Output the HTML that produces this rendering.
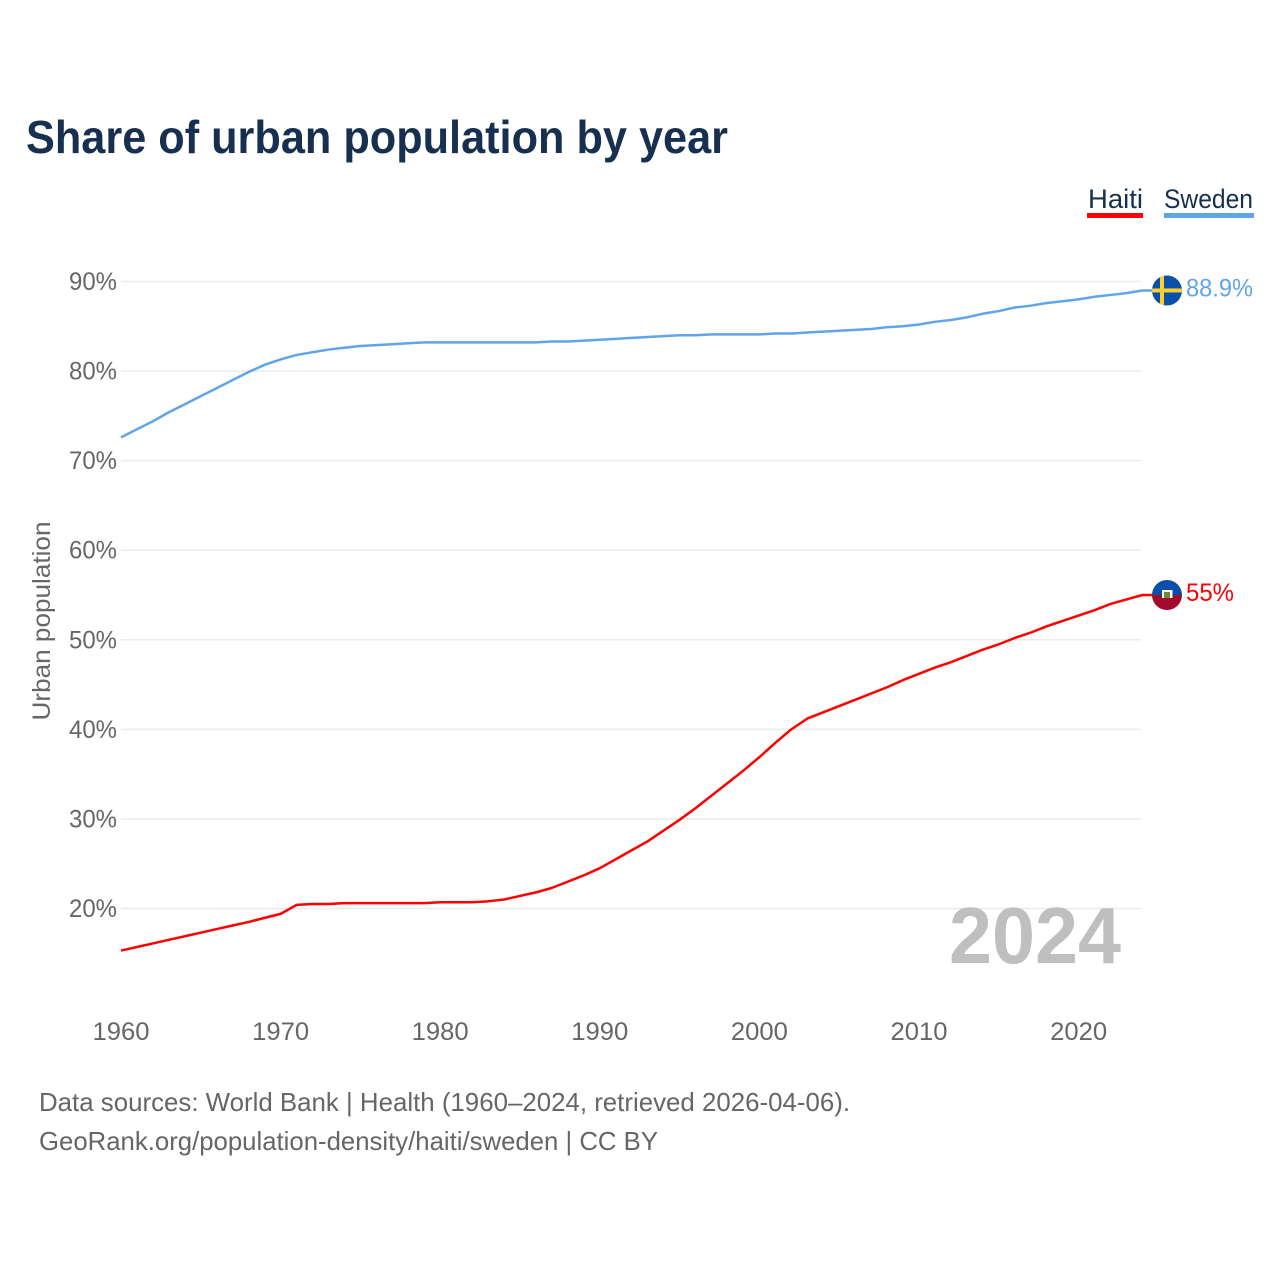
<!DOCTYPE html>
<html lang="en">
<head>
<meta charset="utf-8">
<title>Share of urban population by year</title>
<style>
html,body{margin:0;padding:0;background:#fff;}
svg{display:block;font-family:"Liberation Sans",sans-serif;}
</style>
</head>
<body>
<svg id="chart" xmlns="http://www.w3.org/2000/svg" width="1280" height="1280" viewBox="0 0 1280 1280">
  <rect x="0" y="0" width="1280" height="1280" fill="#fff"/>
  <text x="26" y="153" font-size="46" font-weight="700" fill="#17304f" textLength="702" lengthAdjust="spacingAndGlyphs">Share of urban population by year</text>

  <g>
    <text x="1088" y="208" font-size="27" fill="#17304f" textLength="55" lengthAdjust="spacingAndGlyphs">Haiti</text>
    <rect x="1087" y="213" width="56" height="5" fill="#ff0000"/>
  </g>
  <g>
    <text x="1164" y="208" font-size="27" fill="#17304f" textLength="89" lengthAdjust="spacingAndGlyphs">Sweden</text>
    <rect x="1164" y="213" width="90" height="5" fill="#60a5ea"/>
  </g>

  <g id="grid"></g>
  <g id="y-axis"></g>
  <g id="x-axis"></g>

  <text transform="translate(50,720.5) rotate(-90)" font-size="25" fill="#666" textLength="199" lengthAdjust="spacingAndGlyphs">Urban population</text>

  <text x="949" y="963" font-size="80" font-weight="700" fill="#bfbfbf" textLength="172" lengthAdjust="spacingAndGlyphs">2024</text>

  <g id="series"></g>
  <g id="end-markers"></g>

  <text x="39" y="1111" font-size="26" fill="#666" textLength="811" lengthAdjust="spacingAndGlyphs">Data sources: World Bank | Health (1960–2024, retrieved 2026-04-06).</text>
  <text x="39" y="1150" font-size="26" fill="#666" textLength="619" lengthAdjust="spacingAndGlyphs">GeoRank.org/population-density/haiti/sweden | CC BY</text>
</svg>
<script>
const startYear = 1960;
const yTickValues = [20, 30, 40, 50, 60, 70, 80, 90];
const yTickLabels = ["20%", "30%", "40%", "50%", "60%", "70%", "80%", "90%"];
const xTickValues = [1960, 1970, 1980, 1990, 2000, 2010, 2020];
const xTickLabels = ["1960", "1970", "1980", "1990", "2000", "2010", "2020"];
const haitiValues = [15.3, 15.7, 16.1, 16.5, 16.9, 17.3, 17.7, 18.1, 18.5, 18.95, 19.4, 20.4, 20.5, 20.5, 20.6, 20.6, 20.6, 20.6, 20.6, 20.6];
const haitiValuesB = [20.7, 20.7, 20.7, 20.8, 21.0, 21.4, 21.8, 22.3, 23.0, 23.7, 24.5, 25.5, 26.5, 27.5, 28.7, 29.9, 31.2, 32.6, 34.0, 35.4];
const haitiValuesC = [36.9, 38.5, 40.0, 41.2, 41.9, 42.6, 43.3, 44.0, 44.7, 45.5, 46.2, 46.9, 47.5, 48.2, 48.9, 49.5, 50.2, 50.8, 51.5, 52.1, 52.7, 53.3, 54.0, 54.5, 55.0];
const swedenValues = [72.6, 73.5, 74.4, 75.4, 76.3, 77.2, 78.1, 79.0, 79.9, 80.7, 81.3, 81.8, 82.1, 82.4, 82.6, 82.8, 82.9, 83.0, 83.1, 83.2];
const swedenValuesB = [83.2, 83.2, 83.2, 83.2, 83.2, 83.2, 83.2, 83.3, 83.3, 83.4, 83.5, 83.6, 83.7, 83.8, 83.9, 84.0, 84.0, 84.1, 84.1, 84.1];
const swedenValuesC = [84.1, 84.2, 84.2, 84.3, 84.4, 84.5, 84.6, 84.7, 84.9, 85.0, 85.2, 85.5, 85.7, 86.0, 86.4, 86.7, 87.1, 87.3, 87.6, 87.8, 88.0, 88.3, 88.5, 88.7, 89.0];
const haitiLabel = "55%";
const swedenLabel = "88.9%";

const NS = "http://www.w3.org/2000/svg";
function xScale(year) { return 121 + (year - 1960) * 15.96; }
function yScale(v) { return 281.5 + (90 - v) * 8.957; }
function mk(tag, attrs, parent) {
  const el = document.createElementNS(NS, tag);
  for (const k in attrs) el.setAttribute(k, attrs[k]);
  parent.appendChild(el);
  return el;
}

const gridG = document.getElementById("grid");
const yG = document.getElementById("y-axis");
const xG = document.getElementById("x-axis");
const seriesG = document.getElementById("series");
const markerG = document.getElementById("end-markers");

yTickValues.forEach(function (v, i) {
  const line = mk("line", { x1: 121, x2: 1141, y1: yScale(v), y2: yScale(v), stroke: "#ebebeb", "stroke-width": 1.5 }, gridG);
  
  
  const t = mk("text", { x: 117, y: yScale(v) + 8.5, "font-size": 25, fill: "#666", "text-anchor": "end", textLength: 48, lengthAdjust: "spacingAndGlyphs" }, yG);
  
  
  t.textContent = yTickLabels[i];
});

xTickValues.forEach(function (v, i) {
  const t = mk("text", { x: xScale(v), y: 1040, "font-size": 25, fill: "#666", "text-anchor": "middle", textLength: 57, lengthAdjust: "spacingAndGlyphs" }, xG);
  
  
  t.textContent = xTickLabels[i];
});

function linePath(values) {
  const pts = values.map(function (v, i) { return xScale(startYear + i).toFixed(2) + "," + yScale(v).toFixed(2); });
  const last = values[values.length - 1];
  pts.push((xScale(startYear + values.length - 1) + 10).toFixed(2) + "," + yScale(last).toFixed(2));
  return "M" + pts.join("L");
}

const haitiAll = haitiValues.concat(haitiValuesB, haitiValuesC);
const swedenAll = swedenValues.concat(swedenValuesB, swedenValuesC);

const haitiLine = mk("path", { d: linePath(haitiAll), fill: "none", stroke: "#ff0000", "stroke-width": 2.5, "stroke-linejoin": "round" }, seriesG);


const swedenLine = mk("path", { d: linePath(swedenAll), fill: "none", stroke: "#60a5ea", "stroke-width": 2.5, "stroke-linejoin": "round" }, seriesG);



const flagX = 1167;
const defs = mk("defs", {}, markerG);
const sy = yScale(swedenAll[swedenAll.length - 1]);
const hy = yScale(haitiAll[haitiAll.length - 1]);
const clipS = mk("clipPath", { id: "clip-sweden" }, defs);
mk("circle", { cx: flagX, cy: sy, r: 15 }, clipS);
const clipH = mk("clipPath", { id: "clip-haiti" }, defs);
mk("circle", { cx: flagX, cy: hy, r: 15 }, clipH);

const sFlag = mk("g", { "clip-path": "url(#clip-sweden)" }, markerG);


mk("rect", { x: flagX - 15, y: sy - 15, width: 30, height: 30, fill: "#0a4fa8" }, sFlag);
mk("rect", { x: flagX - 7, y: sy - 15, width: 4, height: 30, fill: "#fdcf2e" }, sFlag);
mk("rect", { x: flagX - 15, y: sy - 2, width: 30, height: 4, fill: "#fdcf2e" }, sFlag);

const hFlag = mk("g", { "clip-path": "url(#clip-haiti)" }, markerG);


mk("rect", { x: flagX - 15, y: hy - 15, width: 30, height: 15, fill: "#0a4fa8" }, hFlag);
mk("rect", { x: flagX - 15, y: hy, width: 30, height: 15, fill: "#a20a2c" }, hFlag);
mk("rect", { x: flagX - 5, y: hy - 5, width: 10.5, height: 8, fill: "#ffffff" }, hFlag);
mk("rect", { x: flagX - 3, y: hy - 3, width: 6, height: 6, fill: "#6d8a3c" }, hFlag);

const sLabel = mk("text", { x: 1186, y: sy + 6, "font-size": 25, fill: "#60a5ea", textLength: 67, lengthAdjust: "spacingAndGlyphs" }, markerG);


sLabel.textContent = swedenLabel;
const hLabel = mk("text", { x: 1186, y: hy + 6, "font-size": 25, fill: "#ff0000", textLength: 48, lengthAdjust: "spacingAndGlyphs" }, markerG);


hLabel.textContent = haitiLabel;
</script>
</body>
</html>
